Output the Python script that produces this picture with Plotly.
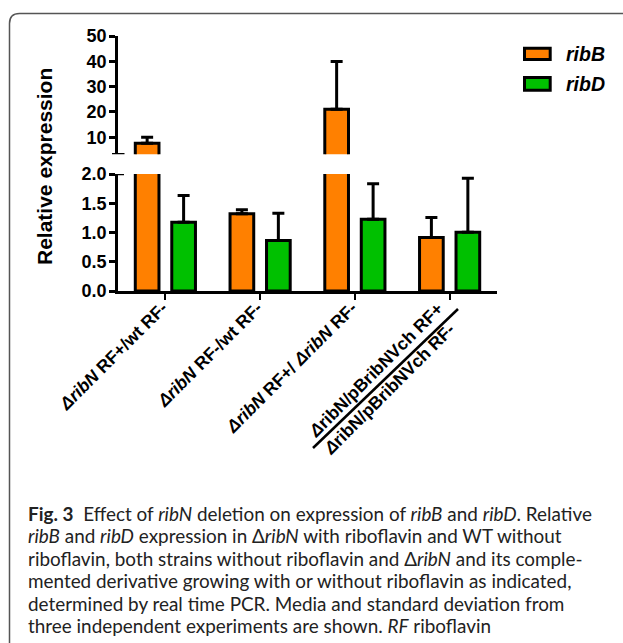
import plotly.graph_objects as go

# ---------------- data ----------------
categories = ["c1", "c2", "c3", "c4"]
tick_labels = [
    "<i>Δ</i><i>ribN</i> RF+/wt RF-",
    "<i>Δ</i><i>ribN</i> RF-/wt RF-",
    "<i>Δ</i><i>ribN</i> RF+/ <i>Δ</i><i>ribN</i> RF-",
    "",
]
label4_lines = ["<i>Δ</i>ribN/pBribNVch RF+", "<i>Δ</i>ribN/pBribNVch RF-"]
ribB_values = [7.7, 1.32, 21.1, 0.915]
ribB_errors = [2.35, 0.07, 18.8, 0.34]
ribD_values = [1.176, 0.863, 1.227, 1.005]
ribD_errors = [0.456, 0.467, 0.606, 0.923]
series_names = ["ribB", "ribD"]
series_colors = ["#FF8000", "#00C000"]

lower_ticks = [0.0, 0.5, 1.0, 1.5, 2.0]
upper_ticks = [10, 20, 30, 40, 50]

caption_lines = [
    "<b>Fig. 3</b>  Effect of <i>ribN</i> deletion on expression of <i>ribB</i> and <i>ribD</i>. Relative",
    "<i>ribB</i> and <i>ribD</i> expression in Δ<i>ribN</i> with riboflavin and WT without",
    "riboflavin, both strains without riboflavin and Δ<i>ribN</i> and its comple-",
    "mented derivative growing with or without riboflavin as indicated,",
    "determined by real time PCR. Media and standard deviation from",
    "three independent experiments are shown. <i>RF</i> riboflavin",
]

# ---------------- layout geometry (pixels) ----------------
W, H = 623, 643
L, R, T, B = 118, 497, 36, 291  # plot area in pixels


def px(x):
    return (x - L) / (R - L)


def py(y):
    return (B - y) / (B - T)


FONT = "Liberation Sans, Arial, sans-serif"
CAPFONT = "Lato, Open Sans, sans-serif"

fig = go.Figure()

offsets = [-0.3175, 0.0675]
values = [ribB_values, ribD_values]
errors = [ribB_errors, ribD_errors]
for i in range(2):
    for yax in ["y", "y2"]:
        fig.add_trace(go.Bar(
            x=categories, y=values[i], yaxis=yax, name=series_names[i],
            width=0.25, offset=offsets[i],
            marker=dict(color=series_colors[i], line=dict(color="black", width=3)),
            error_y=dict(type="data", array=errors[i], arrayminus=[0] * 4, symmetric=False,
                         color="black", thickness=3, width=6),
            showlegend=False, hoverinfo="skip",
        ))

axis_common = dict(showline=True, linecolor="black", linewidth=2.5, ticks="outside",
                   ticklen=6, tickwidth=2.5, tickcolor="black", showgrid=False,
                   zeroline=False, ticklabelstandoff=-1,
                   tickfont=dict(family=FONT, size=18, color="black", weight="bold"))

fig.update_layout(
    width=W, height=H,
    margin=dict(l=L, r=W - R, t=T, b=H - B, pad=0),
    paper_bgcolor="white", plot_bgcolor="white",
    barmode="overlay",
    xaxis=dict(range=[-0.5, 3.5], tickvals=categories, ticktext=tick_labels,
               tickangle=-45, showline=True, linecolor="black", linewidth=2.5,
               ticks="outside", ticklen=6, tickwidth=2, tickcolor="black",
               ticklabelstandoff=-9, ticklabelshift=-3,
               showgrid=False, zeroline=False, anchor="y",
               tickfont=dict(family=FONT, size=17.5, color="black", weight="bold")),
    yaxis=dict(domain=[0, py(174)], range=[0, 2.0], tickvals=lower_ticks,
               tickformat=".1f", anchor="x", **axis_common),
    yaxis2=dict(domain=[py(154.3), 1], range=[3.29, 50], tickvals=upper_ticks,
                anchor="x", **axis_common),
)

shapes = []
# axis break marks
shapes.append(dict(type="line", xref="paper", yref="y2", x0=px(112), x1=px(124.5),
                   y0=3.29, y1=3.29, line=dict(color="black", width=2.5)))
shapes.append(dict(type="line", xref="paper", yref="y", x0=px(112), x1=px(124),
                   y0=2.0, y1=2.0, line=dict(color="black", width=2.5)))
# separator line in the 4th tick label
shapes.append(dict(type="line", xref="paper", yref="paper", x0=px(458), y0=py(309),
                   x1=px(313), y1=py(448), line=dict(color="black", width=2.5)))
# legend swatches
for i, (y0, y1) in enumerate([(48.2, 59.5), (77.5, 90.2)]):
    shapes.append(dict(type="rect", xref="paper", yref="paper", x0=px(524.5), x1=px(550.2),
                       y0=py(y1), y1=py(y0), fillcolor=series_colors[i],
                       line=dict(color="black", width=3)))
# frame
r = 10
x_left, y_top = 9.5, 13.5
path = (f"M {px(x_left)},{py(H + 2)} L {px(x_left)},{py(y_top + r)} "
        f"Q {px(x_left)},{py(y_top)} {px(x_left + r)},{py(y_top)} L {px(W + 2)},{py(y_top)}")
shapes.append(dict(type="path", xref="paper", yref="paper", path=path,
                   line=dict(color="#555555", width=1.5)))
fig.update_layout(shapes=shapes)

ann = []
ann.append(dict(text="<b>Relative expression</b>", xref="paper", yref="paper",
                x=px(44), y=py(167), xanchor="center", yanchor="middle",
                textangle=-90, showarrow=False,
                font=dict(family=FONT, size=21, color="black")))
# two-line label of the 4th group
for j, (line, dx, top) in enumerate(zip(label4_lines, [0, 12], [296, 317])):
    ann.append(dict(text=line, xref="x", yref="paper", x=categories[3], xshift=dx,
                    y=py(top), xanchor="right", yanchor="top", textangle=-45,
                    showarrow=False,
                    font=dict(family=FONT, size=17.5, color="black", weight="bold")))
for i, nm in enumerate(series_names):
    ann.append(dict(text=f"<b><i>{nm}</i></b>", xref="paper", yref="paper",
                    x=px(564), y=py([54, 84][i]), xanchor="left", yanchor="middle",
                    showarrow=False, font=dict(family=FONT, size=19.5, color="black")))
for i, line in enumerate(caption_lines):
    ann.append(dict(text=line, xref="paper", yref="paper", x=px(26), y=py(513 + 22.6 * i),
                    xanchor="left", yanchor="middle", showarrow=False,
                    font=dict(family=CAPFONT, size=18.9, color="#222222")))
fig.update_layout(annotations=ann)

fig.write_html("out.html", config={"displayModeBar": False},
               post_script="document.body.style.margin='0px';")
